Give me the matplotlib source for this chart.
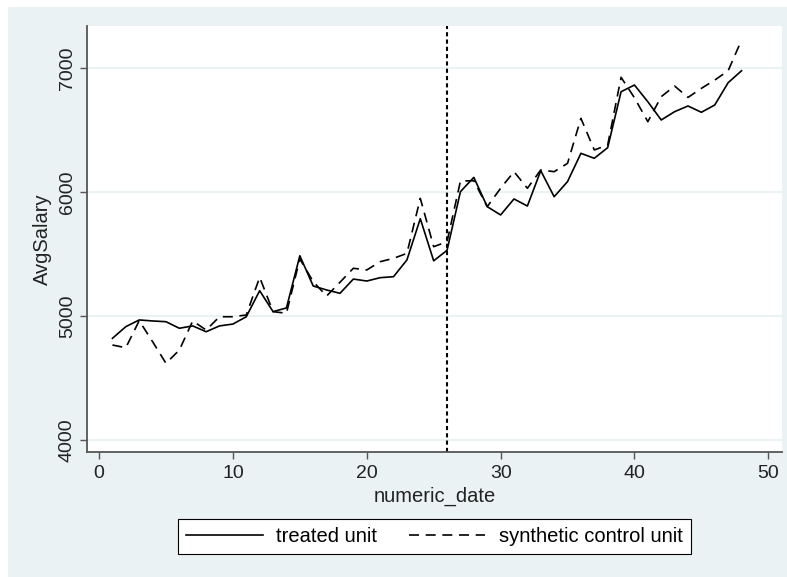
import matplotlib
matplotlib.use('Agg')
import matplotlib.pyplot as plt
from matplotlib.patches import Rectangle

plt.rcParams['font.family'] = ['Liberation Sans', 'DejaVu Sans']

# 数据：处理组与合成控制组的平均工资
numeric_date = list(range(1, 49))
treated = [4820, 4914, 4968, 4960, 4954, 4901, 4920, 4873, 4920, 4935,
           4994, 5204, 5035, 5065, 5486, 5242, 5210, 5183, 5298, 5282,
           5309, 5317, 5452, 5785, 5445, 5530, 6003, 6118, 5882, 5815,
           5944, 5887, 6172, 5962, 6084, 6312, 6272, 6358, 6809, 6863,
           6728, 6581, 6648, 6694, 6643, 6702, 6882, 6978]
synthetic = [4766, 4744, 4962, 4793, 4618, 4726, 4960, 4887, 4994, 4994,
             5008, 5312, 5035, 5022, 5460, 5277, 5161, 5272, 5385, 5371,
             5438, 5465, 5505, 5949, 5559, 5599, 6089, 6091, 5882, 6030,
             6164, 6030, 6178, 6164, 6231, 6594, 6339, 6379, 6925, 6760,
             6567, 6769, 6855, 6763, 6836, 6903, 6978, 7226]
treat_date = 26
yticks = [4000, 5000, 6000, 7000]
xticks = [0, 10, 20, 30, 40, 50]

bg = '#eaf2f3'
axc = '#555555'
W, H = 787, 577

fig = plt.figure(figsize=(W / 100, H / 100), dpi=100)
fig.patch.set_facecolor('white')
fig.patches.append(Rectangle((8 / W, 0), 1, 1 - 7 / H, transform=fig.transFigure,
                             facecolor=bg, edgecolor='none', zorder=-10))

ax = fig.add_axes([87 / W, 1 - 452 / H, (781.7 - 87) / W, (452 - 26) / H])
ax.set_facecolor('white')

l1, = ax.plot(numeric_date, treated, color='black', lw=1.2, label='treated unit')
l2, = ax.plot(numeric_date, synthetic, color='black', lw=1.2, dashes=(6, 4),
              label='synthetic control unit')
ax.axvline(treat_date, color='black', lw=1.5, linestyle=(0, (2, 1.5)))

ax.set_xlim(-0.9, 51.0)
ax.set_ylim(3903, 7339)
ax.set_xticks(xticks)
ax.set_yticks(yticks)
ax.yaxis.grid(True, color=bg, lw=1.5)
ax.set_axisbelow(True)

for s in ['top', 'right']:
    ax.spines[s].set_visible(False)
for s in ['left', 'bottom']:
    ax.spines[s].set_color(axc)
    ax.spines[s].set_linewidth(1.3)

ax.tick_params(axis='both', length=5, width=1, color=axc, labelsize=14,
               labelcolor='#222222')
ax.tick_params(axis='y', pad=3)
ax.tick_params(axis='x', pad=4)
for t in ax.get_yticklabels():
    t.set_rotation(90)
    t.set_va('center')

ax.set_xlabel('numeric_date', fontsize=14.5, color='#222222')
ax.set_ylabel('AvgSalary', fontsize=14.5, color='#222222')
ax.xaxis.label.set_va('center')
ax.yaxis.label.set_va('center')
ax.xaxis.set_label_coords(0.5, (452 - 496.7) / 426)
ax.yaxis.set_label_coords((42 - 87) / 694.7, 0.5)

leg = fig.legend(handles=[l1, l2], loc='center', ncol=2,
                 bbox_to_anchor=(434.5 / W, 1 - 536.2 / H), fontsize=14.5,
                 frameon=True, fancybox=False, edgecolor='black', facecolor='white',
                 framealpha=1, borderpad=0.4, handlelength=3.8, handletextpad=0.67,
                 columnspacing=1.55)
leg.get_frame().set_linewidth(0.8)

fig.savefig('out.png', dpi=100, facecolor=fig.get_facecolor())
